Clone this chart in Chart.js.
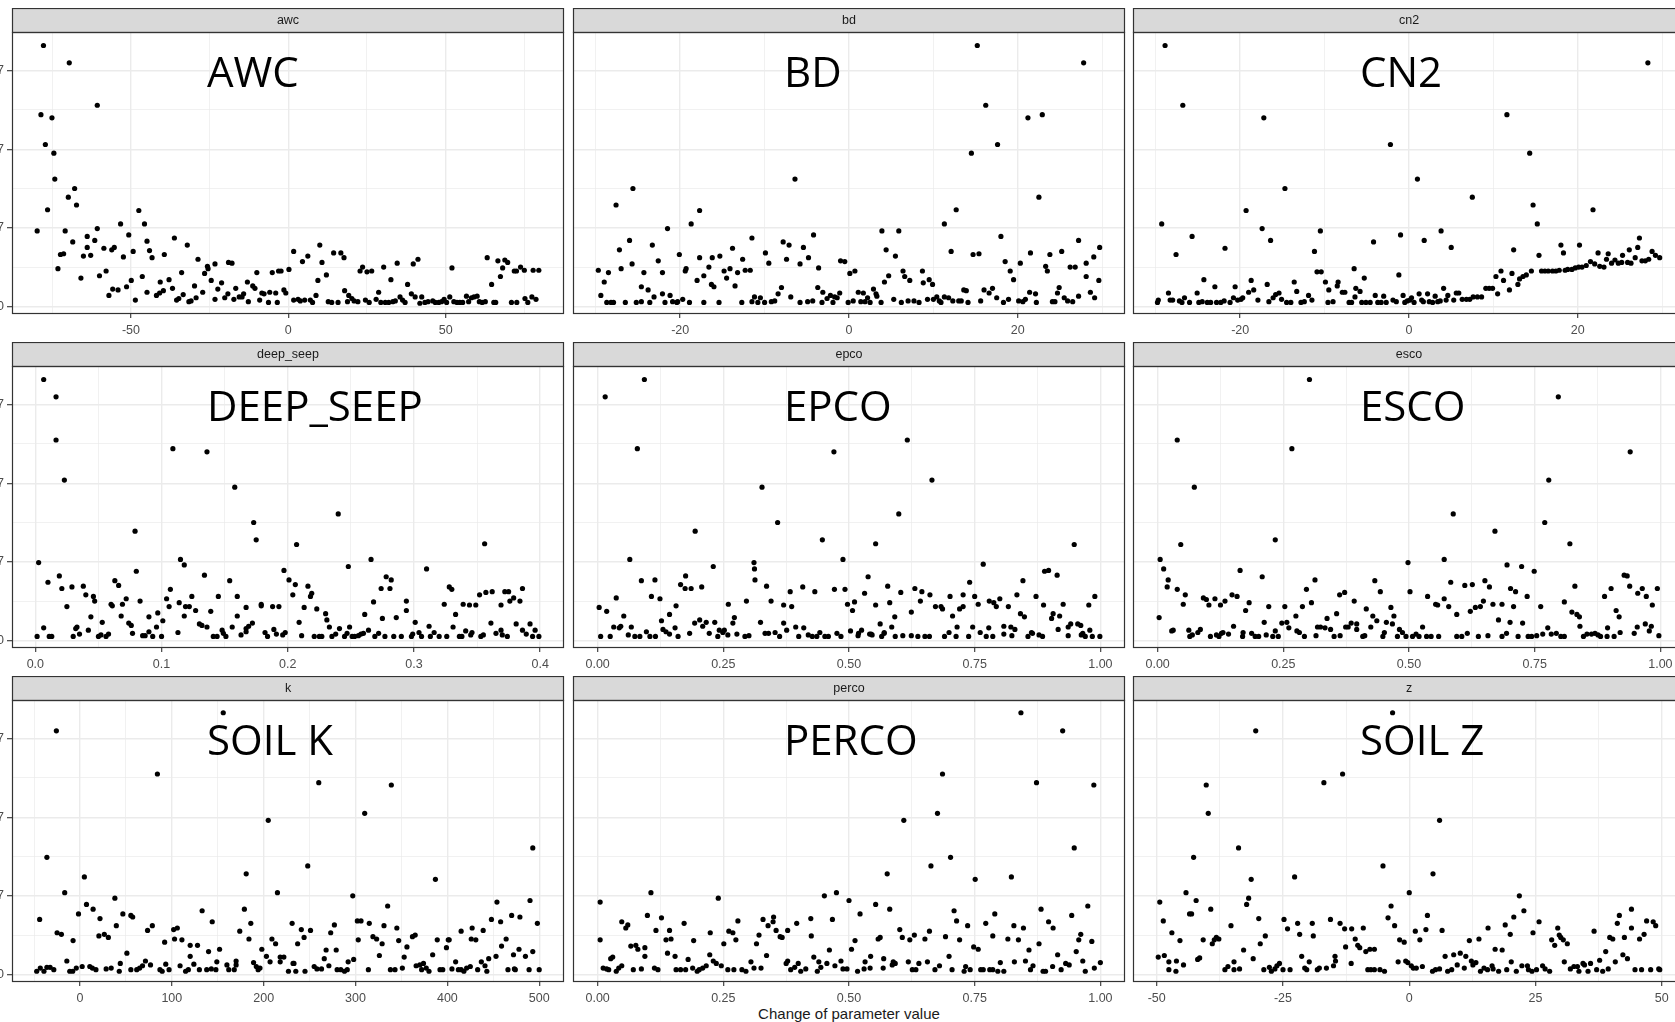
<!DOCTYPE html>
<html>
<head>
<meta charset="utf-8">
<script src="https://cdn.jsdelivr.net/npm/chart.js@4.4.1/dist/chart.umd.min.js"></script>
<style>
  html, body { margin: 0; padding: 0; background: #fff; overflow: hidden; }
  body { width: 1675px; height: 1022px; position: relative; }
  canvas { position: absolute; }
  #xtitle {
    position: absolute; left: 549px; width: 600px; top: 1006px;
    text-align: center; white-space: nowrap; color: #1a1a1a;
    font: 15px "Liberation Sans", Arial, sans-serif; line-height: 15px;
  }
</style>
</head>
<body>
<div id="xtitle">Change of parameter value</div>
<script>
// [change of parameter value, objective value / 1e5]
const awc = [[-77.8,332],[-69.6,310],[-60.7,256],[-78.6,244],[-75.1,240],[-77.2,206],[-74.5,195],[-74.2,162],[-67.9,150],[-69.9,139],[-67.3,129],[-76.5,123],[-79.8,96],[-47.5,122],[-53.3,105],[-45.7,105],[-70.9,96],[-60.7,99],[-63.9,89],[-50.7,91],[-68.5,82],[-61.5,84],[-44.9,83],[-36.2,87],[-32.1,78],[-63.9,75],[-58.6,74],[-55.3,75],[-56.1,72],[-49.3,70],[-44.1,71],[-72.4,66],[-71.4,67],[-65.1,64],[-62.8,65],[-52.4,63],[-43.3,62],[-39.4,66],[-28.7,60],[-73.2,48],[-60.0,39],[-57.9,45],[-65.9,36],[-46.4,38],[-49.9,33],[-40.7,31],[-37.9,34],[-33.9,43],[-25.7,51],[-25.5,48],[-23.3,54],[-24.5,33],[-26.6,42],[-21.2,30],[-19.0,56],[-17.9,55],[-51.4,25],[-55.8,22],[-54.1,21],[-57.0,14],[-48.6,8],[-44.9,18],[-41.9,14],[-40.9,17],[-39.7,20],[-36.8,23],[-35.5,8],[-34.8,10],[-33.4,15],[-31.6,6],[-30.9,7],[-29.8,26],[-29.3,11],[-27.2,18],[-23.3,9],[-22.4,22],[-20.2,11],[-19.2,16],[-17.3,9],[-16.7,23],[-15.6,12],[-14.7,12],[-14.2,16],[-13.0,31],[-12.7,6],[-11.3,26],[-10.6,23],[-10.0,43],[-9.1,8],[-8.4,17],[-7.7,16],[-6.3,5],[-5.9,18],[-5.1,43],[-4.0,17],[-3.5,5],[-3.1,45],[-2.3,45],[-1.4,21],[-0.8,17],[0.2,47],[1.7,70],[1.7,8],[3.1,9],[3.8,7],[4.5,57],[5.2,8],[6.2,64],[7.0,8],[7.7,5],[8.8,14],[9.4,33],[10.0,78],[10.7,56],[12.1,40],[12.7,6],[13.8,5],[14.4,68],[15.8,5],[16.7,68],[17.7,62],[17.9,20],[18.8,6],[19.2,14],[20.2,10],[20.9,7],[22.1,6],[22.8,45],[23.6,50],[24.5,8],[25.0,44],[25.7,5],[26.5,45],[27.9,9],[28.7,18],[29.4,5],[30.3,50],[30.8,5],[31.9,5],[32.6,34],[33.2,6],[34.0,7],[34.6,55],[35.5,12],[36.3,8],[37.1,5],[37.9,28],[39.1,16],[39.7,54],[40.3,12],[41.2,60],[41.8,4],[42.4,12],[43.4,5],[44.4,6],[45.9,7],[46.7,5],[47.8,5],[48.7,6],[49.5,9],[50.3,5],[51.3,12],[52.0,49],[52.6,6],[53.6,5],[54.5,5],[55.4,5],[56.6,13],[57.3,6],[58.2,11],[59.0,12],[60.0,13],[60.7,6],[61.6,5],[62.6,6],[63.2,62],[64.6,28],[65.3,5],[65.9,5],[66.6,58],[67.4,38],[68.1,49],[68.8,59],[69.7,56],[70.9,5],[71.8,45],[72.5,45],[72.6,5],[73.8,50],[75.0,46],[75.2,10],[76.1,5],[77.4,12],[77.8,46],[78.7,9],[79.6,46]];

const bd = [[15.2,332],[27.8,310],[16.2,256],[21.2,240],[22.9,244],[17.6,206],[14.5,195],[-6.4,162],[-25.6,150],[-27.6,129],[22.5,139],[-17.7,122],[12.7,123],[-18.7,105],[11.3,105],[-21.5,99],[3.9,96],[5.9,96],[-4.2,91],[-11.5,87],[18.0,89],[-26.0,84],[27.2,84],[-7.8,82],[-7.1,78],[-23.3,78],[-5.4,75],[29.7,75],[-13.8,74],[-27.2,72],[4.4,72],[12.1,70],[25.2,70],[-20.1,66],[-9.9,68],[14.7,66],[15.4,67],[21.5,68],[23.8,66],[5.5,64],[29.0,63],[-17.7,62],[-16.2,62],[-15.3,64],[-4.8,62],[-7.4,60],[-12.6,60],[-22.6,58],[-1.0,58],[-0.5,57],[-9.5,55],[-25.7,54],[-5.8,54],[18.5,57],[20.3,55],[28.1,55],[-29.7,46],[-27.0,48],[-28.5,43],[-24.3,43],[-22.1,43],[-19.4,45],[-19.3,48],[-16.6,50],[-14.8,45],[-14.1,48],[-13.2,43],[-12.3,46],[-11.7,46],[-3.6,49],[0.1,42],[0.7,45],[4.7,39],[6.4,45],[6.6,38],[7.2,33],[8.7,45],[8.8,30],[9.5,34],[9.9,28],[19.1,45],[19.5,34],[23.3,51],[23.5,45],[26.2,50],[26.8,50],[28.1,38],[29.6,33],[-29.0,31],[-18.0,33],[-17.2,39],[-16.3,28],[-16.0,25],[-14.5,36],[-13.5,26],[4.2,31],[-29.4,14],[-28.7,5],[-28.2,5],[-27.9,5],[-26.5,5],[-25.2,5],[-24.6,6],[-24.6,25],[-23.8,21],[-23.6,5],[-23.1,12],[-22.1,16],[-21.8,5],[-21.2,14],[-20.9,6],[-20.4,5],[-20.3,6],[-19.7,9],[-18.9,5],[-17.2,5],[-15.4,5],[-12.7,5],[-11.5,6],[-11.2,12],[-10.8,5],[-10.5,11],[-10.0,5],[-9.2,6],[-8.8,7],[-8.4,16],[-8.0,24],[-6.9,12],[-5.8,5],[-4.9,6],[-4.3,7],[-3.7,24],[-3.1,18],[-3.2,5],[-2.6,10],[-2.2,14],[-1.9,5],[-1.7,12],[-1.4,11],[-1.1,17],[-0.1,5],[0.5,7],[1.1,18],[1.4,6],[1.7,17],[1.9,6],[2.2,11],[2.5,5],[2.9,22],[3.2,16],[3.3,13],[3.8,5],[5.3,9],[6.2,5],[7.0,7],[7.7,7],[8.3,5],[9.3,9],[10.0,9],[10.4,12],[10.7,7],[10.9,5],[11.3,12],[11.8,11],[12.3,7],[13.0,7],[13.3,7],[13.6,21],[13.9,20],[14.1,5],[15.6,7],[16.0,21],[16.6,17],[17.0,23],[17.5,11],[18.3,5],[18.9,9],[20.1,7],[20.6,6],[20.9,9],[21.4,18],[22.1,16],[22.2,5],[24.1,6],[24.4,6],[24.7,17],[24.9,24],[25.5,11],[25.9,7],[26.5,6],[27.2,13],[28.6,18],[29.1,11]];

const cn2 = [[-28.9,332],[28.3,310],[-26.8,256],[11.6,244],[-17.2,240],[-2.2,206],[14.3,195],[1.0,162],[-14.7,150],[7.5,139],[14.7,129],[21.8,123],[-19.3,122],[-29.3,105],[15.2,105],[-17.4,99],[-10.5,96],[3.8,96],[-25.7,89],[-1.0,91],[27.3,87],[-16.4,84],[-4.2,82],[1.8,84],[18.0,78],[20.2,78],[-21.8,74],[5.0,75],[27.1,75],[12.4,72],[-11.2,70],[18.3,68],[22.4,68],[-27.6,66],[15.4,65],[26.1,72],[23.6,67],[25.3,65],[28.8,70],[29.2,65],[29.7,62],[9.5,23],[9.9,23],[10.5,16],[10.3,38],[10.9,45],[11.2,33],[11.9,21],[12.2,42],[12.9,28],[13.1,35],[13.5,38],[13.9,40],[14.5,45],[15.7,45],[16.1,45],[16.5,45],[17.0,45],[17.4,45],[17.8,46],[18.5,46],[18.8,47],[19.3,47],[19.7,49],[20.1,50],[20.5,50],[21.0,52],[21.5,57],[22.0,54],[22.6,51],[23.1,50],[23.4,60],[24.0,55],[24.4,59],[24.8,55],[25.2,56],[25.9,56],[26.3,55],[26.8,62],[27.6,58],[28.0,58],[28.4,60],[-29.8,5],[-29.7,8],[-28.5,17],[-28.3,8],[-28.0,8],[-27.2,7],[-26.9,5],[-26.6,11],[-26.0,5],[-25.1,17],[-24.9,5],[-24.5,6],[-24.3,34],[-23.9,5],[-23.5,5],[-23.0,25],[-22.8,5],[-22.3,5],[-21.9,7],[-21.2,5],[-20.8,11],[-20.6,25],[-20.3,8],[-19.9,9],[-19.7,11],[-19.0,18],[-18.7,33],[-18.4,21],[-17.9,8],[-16.8,28],[-16.6,6],[-16.1,11],[-15.8,15],[-15.4,17],[-15.1,9],[-14.5,5],[-14.0,5],[-13.6,31],[-13.3,19],[-12.8,5],[-12.4,6],[-11.9,14],[-11.5,8],[-10.9,44],[-10.4,44],[-9.9,31],[-9.6,5],[-9.5,21],[-9.0,6],[-8.5,26],[-8.4,31],[-7.9,18],[-7.6,18],[-7.1,5],[-6.8,5],[-6.5,48],[-6.4,12],[-6.3,23],[-5.8,19],[-5.6,5],[-5.3,36],[-5.1,5],[-4.6,5],[-4.0,14],[-3.7,5],[-3.3,5],[-3.0,13],[-2.7,5],[-1.9,8],[-1.5,6],[-1.2,40],[-0.7,14],[-0.5,5],[-0.2,7],[0.1,8],[0.3,11],[0.6,5],[1.2,16],[1.5,8],[1.7,6],[2.2,16],[2.4,6],[2.8,5],[3.1,13],[3.4,6],[3.7,7],[4.1,23],[4.4,8],[4.6,14],[5.3,8],[5.6,17],[5.9,17],[6.3,9],[6.8,9],[7.2,9],[7.6,12],[8.1,12],[8.6,12],[9.1,23]];

const deepSeep = [[0.0066,332],[0.0164,310],[0.0164,255],[0.023,204],[0.109,244],[0.136,240],[0.158,195],[0.240,161],[0.173,150],[0.079,139],[0.175,128],[0.207,122],[0.356,123],[0.0026,99],[0.115,103],[0.118,96],[0.266,103],[0.248,94],[0.080,88],[0.197,89],[0.310,91],[0.019,82],[0.134,83],[0.063,76],[0.066,70],[0.010,74],[0.154,76],[0.201,77],[0.206,71],[0.278,81],[0.282,77],[0.021,66],[0.029,68],[0.038,69],[0.107,65],[0.216,69],[0.274,66],[0.281,66],[0.328,68],[0.330,65],[0.386,66],[0.040,58],[0.046,56],[0.047,50],[0.072,53],[0.083,50],[0.104,53],[0.124,56],[0.145,56],[0.160,56],[0.204,58],[0.218,56],[0.219,60],[0.294,50],[0.352,58],[0.357,61],[0.362,62],[0.372,62],[0.375,62],[0.379,54],[0.384,50],[0.268,49],[0.025,43],[0.060,46],[0.061,44],[0.069,46],[0.106,43],[0.114,48],[0.119,43],[0.122,43],[0.127,38],[0.167,42],[0.179,46],[0.179,44],[0.188,43],[0.193,43],[0.213,42],[0.223,40],[0.230,34],[0.324,46],[0.339,46],[0.344,45],[0.349,45],[0.369,45],[0.376,50],[0.294,38],[0.333,33],[0.044,30],[0.068,31],[0.090,30],[0.097,35],[0.118,31],[0.139,37],[0.160,31],[0.261,33],[0.286,29],[0.275,28],[0.053,23],[0.074,22],[0.076,19],[0.101,25],[0.130,21],[0.132,19],[0.136,17],[0.172,22],[0.169,18],[0.167,15],[0.209,23],[0.231,26],[0.233,17],[0.241,15],[0.249,17],[0.301,23],[0.312,18],[0.331,17],[0.361,22],[0.381,21],[0.392,21],[0.0014,5],[0.0066,16],[0.011,5],[0.013,5],[0.030,5],[0.032,15],[0.033,17],[0.035,8],[0.042,13],[0.050,5],[0.052,7],[0.056,5],[0.058,8],[0.077,9],[0.085,6],[0.087,6],[0.090,11],[0.093,5],[0.096,17],[0.100,5],[0.113,10],[0.141,5],[0.144,5],[0.148,13],[0.149,9],[0.151,5],[0.156,17],[0.163,7],[0.167,11],[0.182,10],[0.184,5],[0.189,14],[0.191,8],[0.196,7],[0.198,10],[0.211,6],[0.221,5],[0.225,5],[0.227,5],[0.235,5],[0.238,8],[0.245,5],[0.247,9],[0.251,5],[0.253,5],[0.256,6],[0.258,8],[0.260,9],[0.264,13],[0.269,5],[0.272,9],[0.277,5],[0.284,5],[0.290,5],[0.298,5],[0.299,8],[0.304,10],[0.306,5],[0.313,5],[0.316,10],[0.320,5],[0.326,5],[0.336,5],[0.338,5],[0.341,12],[0.345,7],[0.346,10],[0.353,5],[0.355,7],[0.365,9],[0.369,13],[0.370,7],[0.374,5],[0.386,13],[0.389,8],[0.394,5],[0.396,13],[0.399,5]];

const epco = [[0.093,332],[0.015,310],[0.616,255],[0.079,244],[0.470,240],[0.665,204],[0.327,195],[0.599,161],[0.358,150],[0.194,139],[0.447,128],[0.553,123],[0.948,122],[0.064,103],[0.311,99],[0.488,103],[0.767,97],[0.230,94],[0.312,91],[0.889,88],[0.897,89],[0.914,83],[0.175,82],[0.538,81],[0.087,76],[0.114,77],[0.313,77],[0.740,74],[0.846,76],[0.165,71],[0.174,66],[0.186,66],[0.207,68],[0.336,69],[0.408,68],[0.471,65],[0.492,65],[0.577,69],[0.631,66],[0.645,62],[0.661,58],[0.383,62],[0.432,62],[0.531,60],[0.603,61],[0.834,58],[0.037,54],[0.107,56],[0.124,53],[0.296,50],[0.345,50],[0.701,56],[0.727,58],[0.750,56],[0.779,50],[0.788,48],[0.800,53],[0.872,56],[0.989,56],[0.642,50],[0.003,42],[0.018,37],[0.156,44],[0.260,46],[0.370,45],[0.386,43],[0.497,46],[0.511,49],[0.553,45],[0.581,48],[0.672,43],[0.683,43],[0.686,40],[0.706,31],[0.727,43],[0.757,46],[0.793,43],[0.817,43],[0.887,45],[0.926,46],[0.977,45],[0.507,38],[0.720,40],[0.052,31],[0.127,25],[0.143,33],[0.203,26],[0.216,23],[0.193,22],[0.272,29],[0.269,22],[0.324,23],[0.370,22],[0.591,30],[0.624,36],[0.562,21],[0.841,34],[0.849,30],[0.903,28],[0.906,34],[0.919,31],[0.941,21],[0.955,21],[0.961,19],[0.067,17],[0.032,17],[0.043,16],[0.046,18],[0.130,14],[0.136,11],[0.143,8],[0.154,16],[0.209,18],[0.222,9],[0.233,23],[0.242,13],[0.249,10],[0.252,13],[0.394,17],[0.410,16],[0.376,13],[0.353,10],[0.333,9],[0.340,9],[0.442,10],[0.503,12],[0.519,9],[0.525,13],[0.541,8],[0.570,10],[0.585,17],[0.699,10],[0.715,17],[0.746,17],[0.761,10],[0.778,16],[0.808,18],[0.822,17],[0.830,14],[0.863,10],[0.936,17],[0.916,14],[0.965,9],[0.979,13],[0.006,5],[0.025,5],[0.061,7],[0.074,5],[0.084,5],[0.097,11],[0.104,5],[0.115,5],[0.160,5],[0.183,9],[0.239,5],[0.259,7],[0.277,8],[0.293,5],[0.301,6],[0.362,5],[0.400,5],[0.419,7],[0.427,5],[0.436,5],[0.452,5],[0.459,5],[0.476,9],[0.484,5],[0.518,6],[0.544,8],[0.546,7],[0.565,5],[0.570,9],[0.592,5],[0.607,6],[0.624,6],[0.637,5],[0.651,5],[0.660,5],[0.690,5],[0.713,5],[0.738,5],[0.773,5],[0.786,5],[0.808,8],[0.824,6],[0.856,5],[0.865,9],[0.878,7],[0.885,5],[0.936,6],[0.962,7],[0.970,5],[0.984,5],[0.999,5]];

const esco = [[0.302,332],[0.797,310],[0.039,255],[0.267,244],[0.940,240],[0.778,204],[0.073,195],[0.588,161],[0.770,150],[0.671,139],[0.234,128],[0.046,122],[0.820,123],[0.005,103],[0.570,103],[0.498,99],[0.695,96],[0.724,94],[0.012,91],[0.749,88],[0.164,89],[0.208,81],[0.928,83],[0.934,82],[0.021,77],[0.313,77],[0.432,76],[0.583,74],[0.651,76],[0.019,68],[0.039,65],[0.296,65],[0.611,70],[0.626,71],[0.660,68],[0.702,66],[0.712,62],[0.830,69],[0.902,66],[0.939,69],[0.964,66],[0.994,66],[0.055,58],[0.148,58],[0.158,56],[0.372,61],[0.362,58],[0.443,62],[0.502,62],[0.735,56],[0.955,60],[0.972,56],[0.889,56],[0.091,54],[0.097,52],[0.102,45],[0.114,53],[0.125,45],[0.134,50],[0.051,46],[0.182,48],[0.175,38],[0.221,43],[0.253,43],[0.288,43],[0.306,48],[0.391,50],[0.415,40],[0.464,42],[0.537,56],[0.553,46],[0.557,45],[0.570,53],[0.579,43],[0.632,42],[0.642,43],[0.648,50],[0.667,46],[0.685,46],[0.708,43],[0.762,43],[0.809,49],[0.984,45],[0.003,29],[0.275,31],[0.337,28],[0.356,34],[0.428,31],[0.436,25],[0.455,23],[0.470,31],[0.467,21],[0.595,33],[0.622,37],[0.678,26],[0.726,22],[0.824,36],[0.834,33],[0.839,30],[0.912,38],[0.918,30],[0.212,23],[0.247,22],[0.257,23],[0.385,22],[0.396,21],[0.701,23],[0.970,21],[0.028,12],[0.031,13],[0.062,13],[0.080,10],[0.085,14],[0.151,18],[0.127,9],[0.130,10],[0.141,8],[0.170,10],[0.187,9],[0.261,16],[0.277,12],[0.282,10],[0.234,12],[0.318,17],[0.324,17],[0.333,16],[0.344,14],[0.374,17],[0.379,17],[0.396,14],[0.424,17],[0.451,10],[0.481,14],[0.487,10],[0.527,17],[0.776,16],[0.840,18],[0.895,16],[0.920,10],[0.948,9],[0.954,17],[0.978,12],[0.982,18],[0.064,5],[0.069,7],[0.105,5],[0.117,7],[0.122,5],[0.169,5],[0.194,5],[0.201,5],[0.216,7],[0.229,5],[0.240,5],[0.292,5],[0.315,6],[0.351,5],[0.363,6],[0.408,5],[0.412,6],[0.448,5],[0.477,5],[0.494,5],[0.507,5],[0.514,8],[0.520,5],[0.535,5],[0.544,5],[0.559,5],[0.595,5],[0.605,5],[0.616,9],[0.638,5],[0.657,6],[0.685,5],[0.694,9],[0.717,5],[0.737,5],[0.744,5],[0.754,6],[0.766,8],[0.783,8],[0.793,9],[0.802,5],[0.809,5],[0.847,5],[0.854,8],[0.863,8],[0.870,9],[0.876,7],[0.881,5],[0.894,5],[0.908,5],[0.997,6]];

const soilK = [[156,333],[-25.7,310],[84.3,255],[260,244],[339,241],[310,205],[205,196],[493,161],[-36,149],[248,138],[181,128],[387,121],[4.8,124],[-16.6,104],[215,104],[38,97],[297,100],[490,94],[454,92],[7.1,89],[14.3,83],[133,81],[179,83],[335,87],[-1.6,77],[46.7,77],[57.4,73],[55.4,75],[-43.9,70],[21.8,71],[144,67],[186,65],[231,65],[315,65],[498,65],[470,75],[479,73],[302,68],[306,68],[458,67],[448,70],[427,59],[39.6,62],[73.6,56],[78.8,62],[102,57],[106,59],[174,55],[241,57],[251,56],[273,53],[277,63],[331,62],[345,59],[415,55],[439,56],[-24.9,53],[-20.2,51],[20.6,49],[26.5,51],[30.9,47],[103,45],[111,44],[184,45],[209,45],[244,47],[319,48],[323,45],[329,39],[347,43],[362,48],[365,50],[389,44],[401,44],[402,44],[426,45],[431,44],[464,45],[-7.5,43],[92.2,41],[213,39],[237,39],[303,44],[356,35],[399,34],[459,36],[120,37],[198,32],[268,31],[279,31],[140,29],[152,32],[51.1,27],[326,24],[384,25],[472,25],[478,32],[485,23],[493,29],[453,23],[445,20],[120,23],[128,37],[203,23],[218,22],[353,22],[374,14],[-14.3,17],[43.9,14],[71.3,17],[149,16],[170,17],[207,16],[218,16],[222,22],[232,14],[266,20],[292,16],[298,19],[409,16],[437,16],[474,6],[-47.1,4],[-43.2,8],[-39.2,4],[-36,9],[-32.5,9],[-28.5,6],[-11.1,4],[-7.9,4],[-4,8],[2.4,10],[10.7,10],[13.5,8],[17.4,6],[28.5,7],[34,8],[42.8,4],[55.4,6],[61.8,6],[65,8],[68.1,11],[76.8,12],[87.1,6],[89.5,4],[93.4,13],[97,6],[109,11],[115,4],[118,6],[124,13],[130,6],[138,6],[143,7],[148,6],[160,12],[162,6],[168,6],[170,12],[189,15],[192,10],[194,6],[196,8],[227,4],[233,14],[235,4],[245,4],[255,10],[258,7],[263,7],[271,11],[280,6],[284,6],[288,4],[291,6],[314,6],[338,6],[343,6],[351,8],[366,11],[370,12],[372,6],[377,8],[380,4],[392,6],[395,6],[405,7],[412,6],[415,6],[418,4],[421,8],[425,10],[433,6],[441,11],[443,4],[466,6],[473,7],[489,6],[500,6]];

const perco = [[0.842,333],[0.925,310],[0.686,255],[0.873,244],[0.987,241],[0.676,205],[0.609,196],[0.948,161],[0.702,149],[0.663,138],[0.576,128],[0.823,124],[0.751,121],[0.106,104],[0.475,104],[0.005,92],[0.240,97],[0.451,100],[0.500,94],[0.553,89],[0.581,83],[0.975,87],[0.882,83],[0.709,81],[0.522,77],[0.790,77],[0.099,75],[0.127,72],[0.350,73],[0.943,75],[0.329,70],[0.424,71],[0.467,70],[0.279,68],[0.048,67],[0.172,65],[0.349,67],[0.396,65],[0.714,68],[0.772,65],[0.897,67],[0.060,63],[0.056,59],[0.339,62],[0.736,62],[0.828,62],[0.847,59],[0.906,59],[0.116,56],[0.143,56],[0.224,53],[0.261,55],[0.269,53],[0.355,56],[0.378,56],[0.601,57],[0.660,55],[0.321,50],[0.363,48],[0.367,47],[0.425,49],[0.606,47],[0.621,44],[0.630,50],[0.651,45],[0.692,48],[0.720,44],[0.786,49],[0.816,45],[0.837,44],[0.957,44],[0.961,51],[0.005,44],[0.136,44],[0.146,45],[0.191,43],[0.275,44],[0.558,45],[0.562,47],[0.512,43],[0.983,42],[0.066,36],[0.076,37],[0.080,32],[0.094,34],[0.251,39],[0.316,39],[0.505,32],[0.748,35],[0.757,32],[0.878,39],[0.858,31],[0.461,31],[0.952,29],[0.139,27],[0.154,23],[0.094,23],[0.223,25],[0.336,24],[0.430,22],[0.699,23],[0.915,25],[0.026,20],[0.030,22],[0.180,19],[0.230,17],[0.236,14],[0.246,11],[0.305,16],[0.375,14],[0.378,17],[0.399,14],[0.440,16],[0.484,17],[0.456,14],[0.532,16],[0.543,23],[0.569,20],[0.588,16],[0.592,14],[0.618,16],[0.639,14],[0.656,16],[0.680,11],[0.801,15],[0.829,16],[0.851,17],[0.866,11],[0.931,14],[0.938,12],[0.965,17],[1.000,15],[0.011,8],[0.018,7],[0.022,6],[0.037,4],[0.042,8],[0.048,11],[0.071,6],[0.087,7],[0.113,8],[0.120,6],[0.156,6],[0.165,6],[0.175,6],[0.189,8],[0.198,4],[0.202,6],[0.209,8],[0.216,11],[0.259,6],[0.271,6],[0.287,6],[0.295,4],[0.311,8],[0.325,8],[0.384,6],[0.392,9],[0.404,4],[0.414,7],[0.437,4],[0.444,9],[0.472,11],[0.488,7],[0.496,7],[0.517,4],[0.530,7],[0.542,8],[0.568,8],[0.586,12],[0.626,6],[0.633,6],[0.671,6],[0.705,6],[0.729,4],[0.732,10],[0.741,6],[0.762,6],[0.767,6],[0.780,6],[0.786,6],[0.796,4],[0.808,4],[0.861,6],[0.886,4],[0.891,4],[0.905,10],[0.922,6],[0.970,4],[0.988,8]];

const soilZ = [[-3.3,333],[-30.4,310],[-13.2,255],[-16.9,244],[-40.2,241],[-39.8,205],[6.0,196],[-33.8,161],[-42.7,149],[-5.2,138],[4.7,128],[-22.7,124],[-31.3,121],[-44.2,104],[0.0,104],[21.8,100],[-49.4,92],[-42.2,94],[-31.8,97],[-32.2,89],[-3.6,87],[-39.3,83],[22.7,81],[44.0,83],[3.6,75],[41.6,75],[-43.5,77],[-43.1,77],[-48.7,68],[-29.8,71],[-24.8,70],[-15.6,70],[-13.7,65],[-4.2,72],[20.7,73],[25.7,67],[41.2,65],[47.0,68],[48.3,67],[48.8,62],[-35.3,62],[-22.1,65],[-19.2,65],[-2.9,62],[19.0,63],[29.4,59],[-24.1,58],[-12.8,58],[-11.4,58],[-9.1,59],[1.2,55],[3.3,57],[6.5,56],[15.6,59],[24.5,53],[36.6,55],[44.0,59],[-47.0,53],[-28.5,49],[-21.7,51],[-19.0,49],[20.0,51],[29.7,50],[39.7,47],[40.3,45],[42.6,47],[45.6,45],[46.5,51],[30.0,47],[30.5,44],[-45.4,43],[-40.8,44],[-38.6,44],[-38.2,47],[-37.7,45],[-10.7,45],[-1.9,44],[-1.0,41],[2.1,44],[11.9,43],[13.8,45],[28.2,44],[28.8,37],[31.3,39],[-39.0,39],[-29.5,39],[-10.2,37],[-9.8,34],[-8.6,29],[-7.8,32],[-6.9,32],[-32.8,31],[17.0,32],[18.4,31],[38.9,29],[-49.7,22],[-48.5,24],[-41.9,19],[-41.5,21],[-30.9,20],[-21.3,23],[-14.7,23],[-12.6,35],[7.1,23],[8.8,25],[10.1,27],[11.2,23],[42.3,25],[43.2,20],[-47.6,16],[-46.1,17],[-44.7,12],[-34.7,16],[-19.8,16],[-14.6,17],[-11.5,14],[-2.2,16],[-0.7,17],[-0.3,15],[12.3,17],[13.2,15],[20.2,16],[30.7,16],[37.7,18],[40.8,16],[35.9,14],[34.7,12],[-47.6,6],[-46.2,4],[-36.5,6],[-35.9,10],[-34.7,6],[-33.6,7],[-28.8,6],[-27.7,9],[-27.3,4],[-26.6,7],[-26.2,11],[-25.7,14],[-25.0,6],[-23.6,6],[-20.7,8],[-20.3,6],[-18.2,6],[-17.8,8],[-16.4,8],[-15.0,11],[-8.2,6],[-7.6,6],[-6.9,6],[-5.8,6],[-4.9,4],[0.4,11],[0.8,8],[1.4,8],[2.6,10],[4.6,4],[5.2,6],[6.0,7],[7.6,4],[8.4,6],[9.5,12],[10.9,8],[12.6,12],[14.1,4],[14.8,8],[15.5,6],[16.4,11],[16.6,7],[17.7,4],[19.3,6],[21.2,4],[22.3,11],[23.4,11],[23.6,6],[24.3,4],[25.2,6],[26.4,11],[26.9,7],[27.8,4],[31.9,7],[32.6,10],[33.3,10],[33.6,4],[34.4,14],[35.4,4],[37.1,6],[38.3,4],[39.4,7],[44.7,6],[46.0,6],[47.8,6],[49.4,7],[49.6,6]];

const Y_UNIT = 1e5;
const Y_MIN = -0.97e6, Y_MAX = 3.492e7, Y_STEP = 1e7;

const facets = [
  { strip: 'awc',       tag: 'AWC',       pts: awc,      min: -87.8,   max: 87.6,   step: 50,   digits: 0 },
  { strip: 'bd',        tag: 'BD',        pts: bd,       min: -32.7,   max: 32.7,   step: 20,   digits: 0 },
  { strip: 'cn2',       tag: 'CN2',       pts: cn2,      min: -32.7,   max: 32.7,   step: 20,   digits: 0 },
  { strip: 'deep_seep', tag: 'DEEP_SEEP', pts: deepSeep, min: -0.0185, max: 0.4189, step: 0.1,  digits: 1 },
  { strip: 'epco',      tag: 'EPCO',      pts: epco,     min: -0.049,  max: 1.049,  step: 0.25, digits: 2 },
  { strip: 'esco',      tag: 'ESCO',      pts: esco,     min: -0.049,  max: 1.049,  step: 0.25, digits: 2 },
  { strip: 'k',         tag: 'SOIL K',    pts: soilK,    min: -74,     max: 527,    step: 100,  digits: 0 },
  { strip: 'perco',     tag: 'PERCO',     pts: perco,    min: -0.049,  max: 1.049,  step: 0.25, digits: 2 },
  { strip: 'z',         tag: 'SOIL Z',    pts: soilZ,    min: -54.7,   max: 54.6,   step: 25,   digits: 0 },
];

// page geometry of the facet grid
const PANEL_W = 552, PANEL_H = 282, STRIP_H = 24;
const COL_LEFT = [12, 573, 1133];
const ROW_TOP = [8, 342, 676];
const TAG_LEFT = [207, 784, 1360];
const TAG_BASE = 79;
const AXIS_W = 50, AXIS_H = 40, PAD_R = 10;

const AXIS_FONT = { family: '"Liberation Sans", Arial, sans-serif', size: 12.5 };

function isMajor(v, step) {
  const r = v / step;
  return Math.abs(r - Math.round(r)) < 1e-6;
}

// major + minor (half-step) breaks inside [min, max]
function breaks(min, max, step) {
  const half = step / 2, out = [];
  for (let k = Math.ceil(min / half - 1e-9); k * half <= max + 1e-12; k++) out.push({ value: k * half });
  return out;
}

function sci(v) {
  if (v === 0) return '0e+00';
  const e = Math.floor(Math.log10(Math.abs(v)));
  return (v / Math.pow(10, e)) + 'e+' + String(e).padStart(2, '0');
}

const facetFrame = {
  id: 'facet',
  afterDraw(chart, args, opts) {
    const { ctx, chartArea: a } = chart;
    const w = a.right - a.left;
    ctx.save();
    // strip
    ctx.fillStyle = '#D9D9D9';
    ctx.fillRect(a.left, a.top - STRIP_H, w, STRIP_H);
    ctx.strokeStyle = '#333333';
    ctx.lineWidth = 1.2;
    ctx.strokeRect(a.left + 0.5, a.top - STRIP_H + 0.5, w - 1, STRIP_H);
    // panel border
    ctx.strokeRect(a.left + 0.5, a.top + 0.5, w - 1, a.bottom - a.top - 1);
    ctx.fillStyle = '#1A1A1A';
    ctx.font = '12.5px "Liberation Sans", Arial, sans-serif';
    ctx.textAlign = 'center';
    ctx.textBaseline = 'middle';
    ctx.fillText(opts.strip, a.left + w / 2, a.top - STRIP_H / 2 + 0.5);
    // parameter name
    ctx.fillStyle = '#000';
    ctx.font = '42px "Open Sans", sans-serif';
    ctx.textAlign = 'left';
    ctx.textBaseline = 'alphabetic';
    ctx.fillText(opts.tag, opts.tagX, opts.tagY);
    ctx.restore();
  }
};

function draw() {
  facets.forEach((f, i) => {
    const col = i % 3, row = Math.floor(i / 3);
    const left = COL_LEFT[col] - AXIS_W, top = ROW_TOP[row];
    const cw = AXIS_W + PANEL_W + PAD_R, ch = STRIP_H + PANEL_H + AXIS_H;
    const canvas = document.createElement('canvas');
    canvas.width = cw; canvas.height = ch;
    canvas.style.left = left + 'px';
    canvas.style.top = top + 'px';
    canvas.style.width = cw + 'px';
    canvas.style.height = ch + 'px';
    document.body.appendChild(canvas);

    const firstCol = col === 0;
    const gridWidth = step => c => (c.tick && isMajor(c.tick.value, step)) ? 1.4 : 0.7;
    const tickColor = step => c => (c.tick && isMajor(c.tick.value, step)) ? '#333333' : 'rgba(0,0,0,0)';

    new Chart(canvas, {
      type: 'scatter',
      data: {
        datasets: [{
          data: f.pts.map(([x, y]) => ({ x, y: y * Y_UNIT })),
          pointRadius: 2.6,
          pointBackgroundColor: '#000',
          pointBorderWidth: 0,
        }],
      },
      options: {
        responsive: false,
        animation: false,
        events: [],
        layout: { padding: { top: STRIP_H, right: PAD_R, left: 0, bottom: 0 } },
        plugins: {
          legend: { display: false },
          tooltip: { enabled: false },
          facet: { strip: f.strip, tag: f.tag, tagX: TAG_LEFT[col] - left, tagY: TAG_BASE },
        },
        scales: {
          x: {
            type: 'linear', min: f.min, max: f.max,
            afterBuildTicks: s => { s.ticks = breaks(f.min, f.max, f.step); },
            afterFit: s => { s.height = AXIS_H; },
            border: { display: false },
            grid: { color: '#EBEBEB', lineWidth: gridWidth(f.step), tickLength: 4, tickWidth: 1.1, tickColor: tickColor(f.step) },
            ticks: {
              autoSkip: false, maxRotation: 0, padding: 5, color: '#4D4D4D', font: AXIS_FONT,
              callback: v => isMajor(v, f.step) ? v.toFixed(f.digits) : '',
            },
          },
          y: {
            type: 'linear', min: Y_MIN, max: Y_MAX,
            afterBuildTicks: s => { s.ticks = breaks(Y_MIN, Y_MAX, Y_STEP); },
            afterFit: s => { s.width = AXIS_W; },
            border: { display: false },
            grid: { color: '#EBEBEB', lineWidth: gridWidth(Y_STEP), drawTicks: firstCol, tickLength: 5, tickWidth: 1.1, tickColor: tickColor(Y_STEP) },
            ticks: {
              display: firstCol, autoSkip: false, padding: 3, color: '#4D4D4D', font: AXIS_FONT,
              callback: v => isMajor(v, Y_STEP) ? sci(v) : '',
            },
          },
        },
      },
      plugins: [facetFrame],
    });
  });
}

document.fonts.load('42px "Open Sans"').then(draw, draw);
</script>
</body>
</html>
